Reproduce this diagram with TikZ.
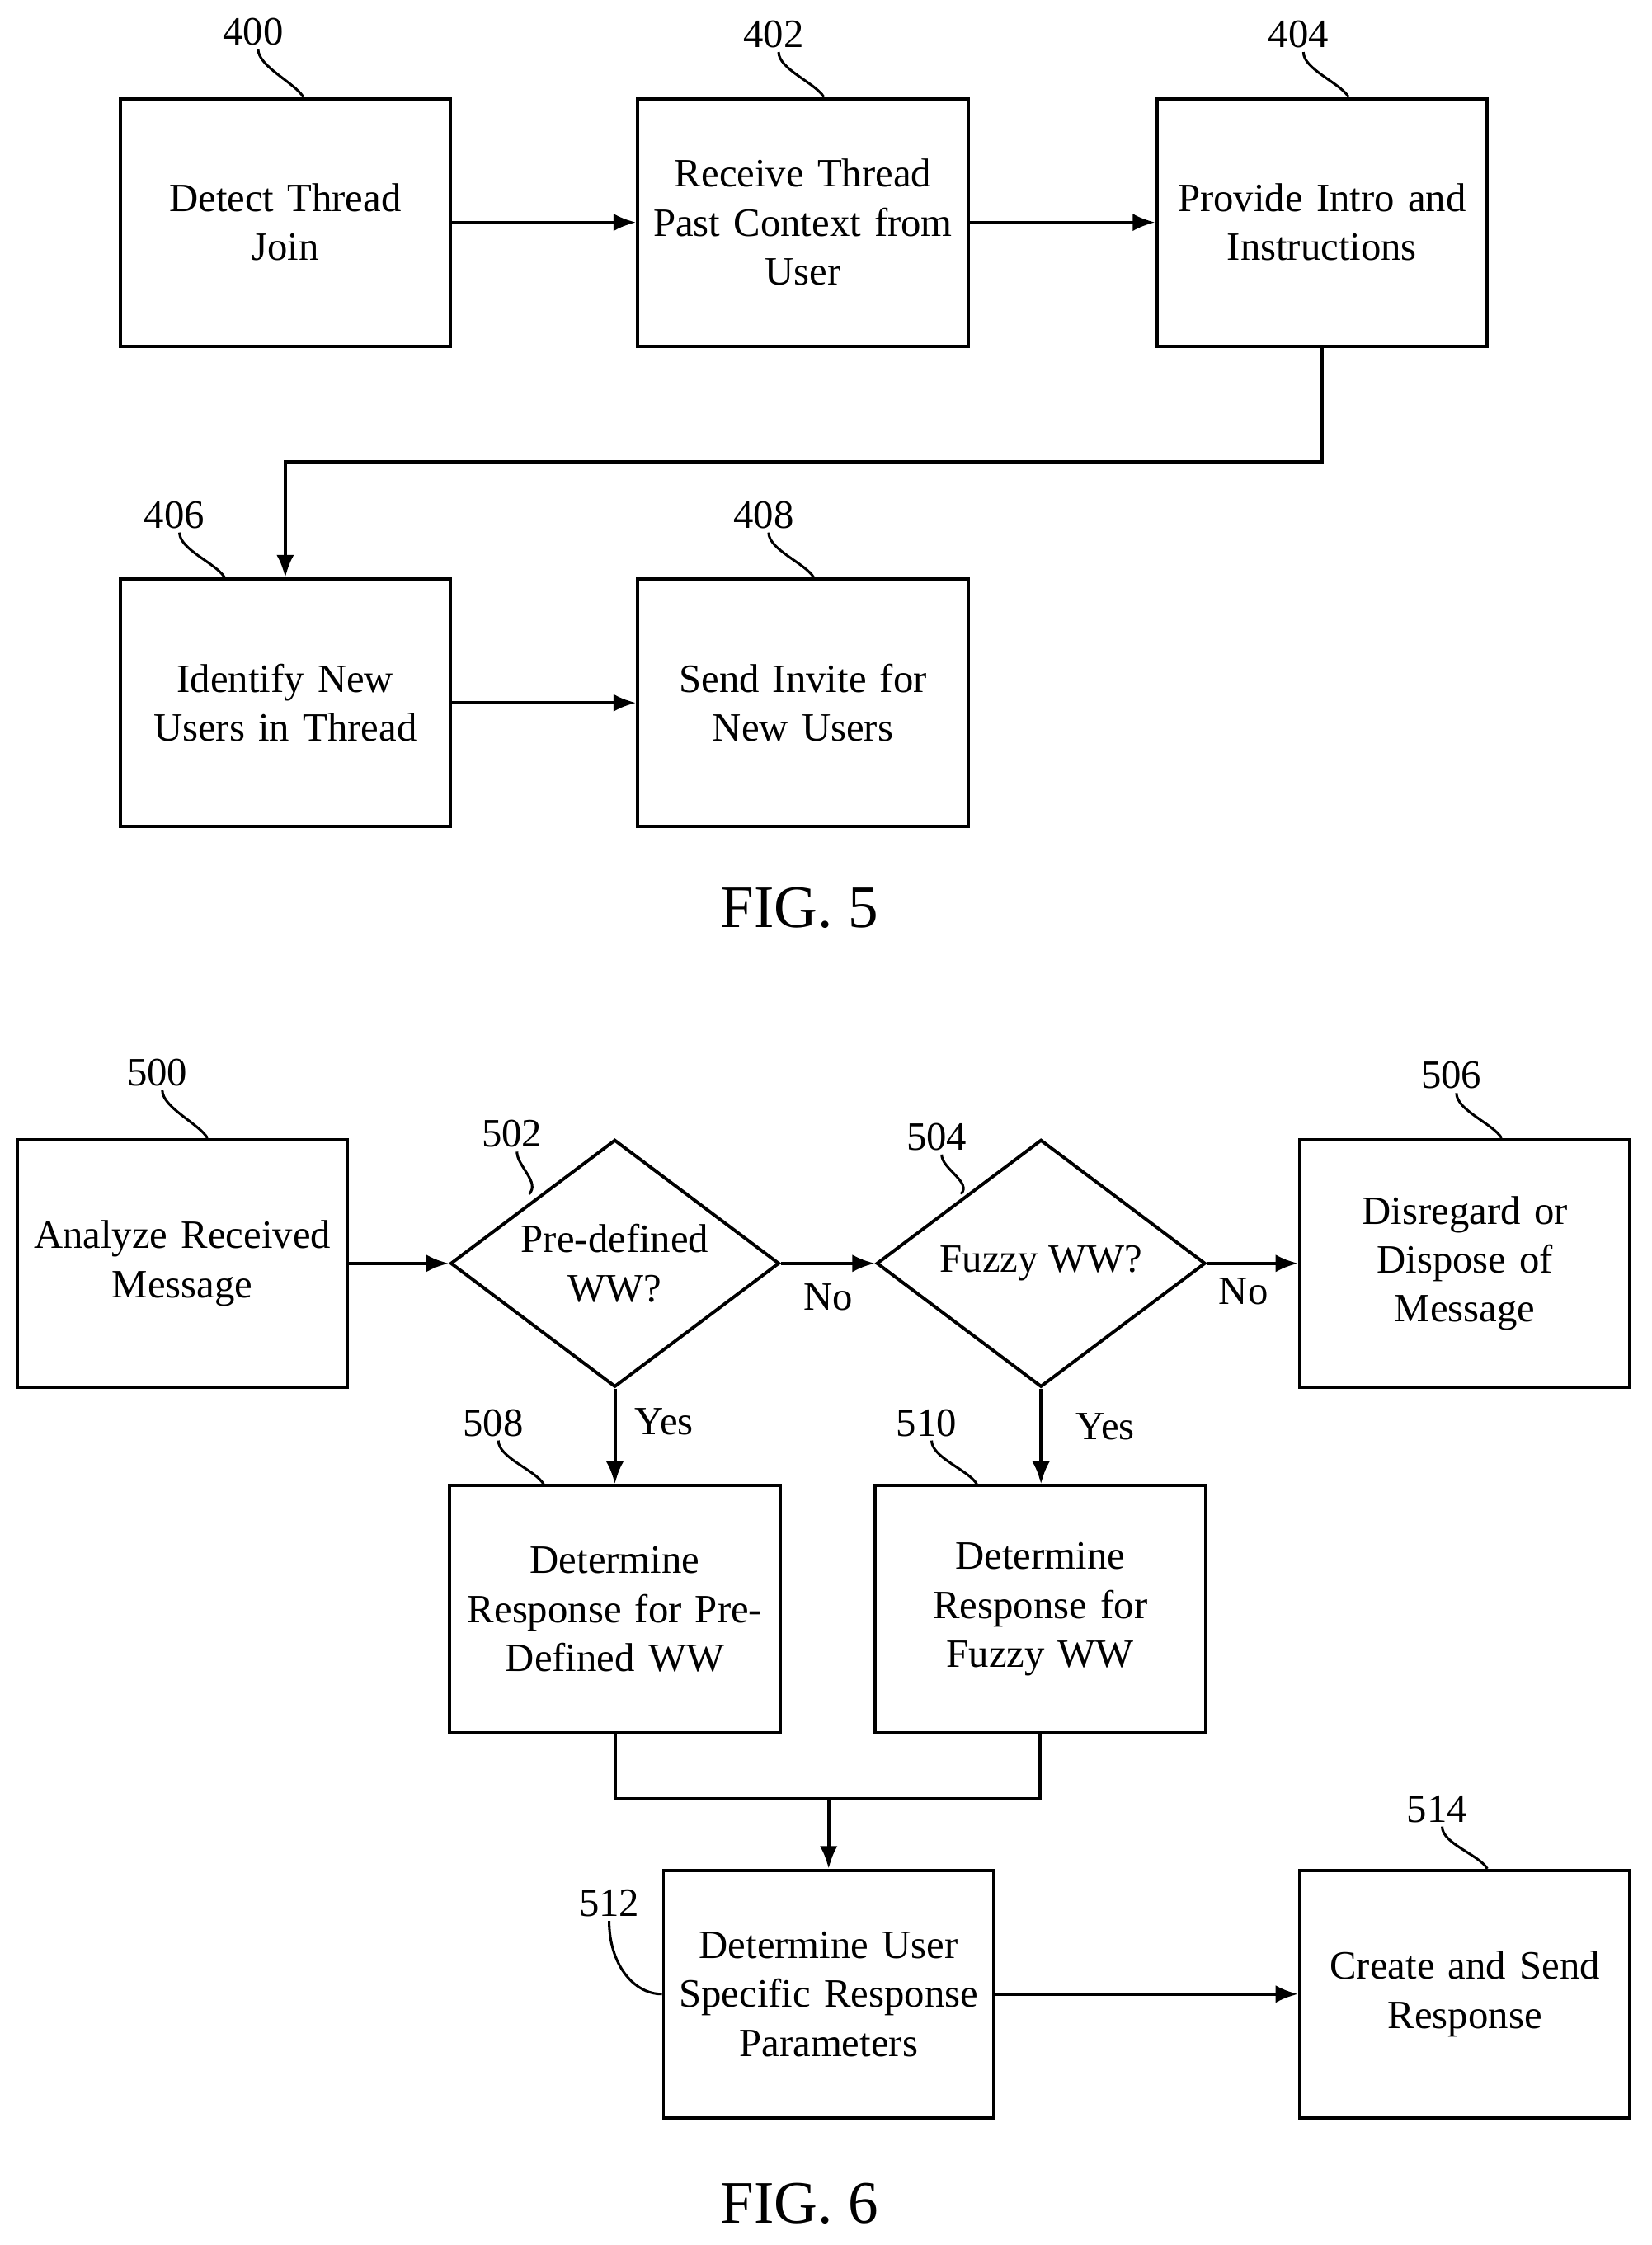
\documentclass[tikz,border=0pt]{standalone}
\usepackage{fontspec}
\setmainfont{Liberation Serif}
\usetikzlibrary{shapes.geometric,arrows.meta}

\begin{document}
\begin{tikzpicture}[x=0.02cm,y=-0.02cm,line width=1.3pt,
  font=\fontsize{16}{19.5}\selectfont,
  box/.style={draw,minimum width=4.62cm,minimum height=3.46cm,align=center,text width=4.3cm,inner sep=0pt},
  dia/.style={draw,diamond,minimum width=4.6cm,minimum height=3.46cm,aspect=1.33,inner sep=0pt,align=center},
  num/.style={inner sep=1pt},
  arr/.style={-{Latex[length=9pt,width=7pt]}},
  tick/.style={line width=1pt}]
\useasboundingbox (0,0) rectangle (1155,1570);
% FIG. 5
\node[box] (b400) at (199.5,155.5) {Detect Thread\\Join};
\node[box] (b402) at (561.5,155.5) {Receive Thread\\Past Context from\\User};
\node[box] (b404) at (924.5,155.5) {Provide Intro and\\Instructions};
\node[box] (b406) at (199.5,491.5) {Identify New\\Users in Thread};
\node[box] (b408) at (561.5,491.5) {Send Invite for\\New Users};
\node[num] (l400) at (177,22) {400};
\node[num] (l402) at (541,24) {402};
\node[num] (l404) at (908,24) {404};
\node[num] (l406) at (122,360) {406};
\node[num] (l408) at (534,360) {408};
\foreach \n/\d in {400/20,402/20,404/20,406/20,408/20}
  \draw[tick] ([xshift=2]l\n.south) .. controls +(0,12) and +(-6,-10) .. ([xshift=\d]b\n.north -| l\n.south);
\draw[arr] (b400) -- (b402);
\draw[arr] (b402) -- (b404);
\draw[arr] (b404.south) |- (199.5,323) -- (b406.north);
\draw[arr] (b406) -- (b408);
\node[font=\fontsize{24}{28}\selectfont] (fig5) at (559,635) {FIG. 5};
% FIG. 6
\node[box] (b500) at (127.5,883.5) {Analyze Received\\Message};
\node[dia] (d502) at (430,883.5) {Pre-defined\\WW?};
\node[dia] (d504) at (728,883.5) {Fuzzy WW?};
\node[box] (b506) at (1024.5,883.5) {Disregard or\\Dispose of\\Message};
\node[box] (b508) at (430,1125.5) {Determine\\Response for Pre-\\Defined WW};
\node[box] (b510) at (727.5,1125.5) {Determine\\Response for\\Fuzzy WW};
\node[box] (b512) at (579.5,1394.5) {Determine User\\Specific Response\\Parameters};
\node[box] (b514) at (1024.5,1394.5) {Create and Send\\Response};
\node[num] (l500) at (110,750) {500};
\node[num] (l502) at (358,793) {502};
\node[num] (l504) at (655,795) {504};
\node[num] (l506) at (1015,752) {506};
\node[num] (l508) at (345,995) {508};
\node[num] (l510) at (648,995) {510};
\node[num] (l512) at (426,1331) {512};
\node[num] (l514) at (1005,1265) {514};
\foreach \n in {500,506,508,510,514}
  \draw[tick] ([xshift=2]l\n.south) .. controls +(0,12) and +(-6,-10) .. ([xshift=20]b\n.north -| l\n.south);
\draw[tick] ([xshift=2]l502.south) .. controls +(0,10) and +(8,-8) .. (370,835);
\draw[tick] ([xshift=2]l504.south) .. controls +(0,10) and +(8,-8) .. (672,835);
\draw[tick] (l512.south) .. controls +(0,30) and +(-20,0) .. (b512.west);
\draw[arr] (b500) -- (d502);
\draw[arr] (d502) -- node[pos=0.5,below=4pt] (no1) {No} (d504);
\draw[arr] (d504) -- node[pos=0.4,below=2pt] (no2) {No} (b506);
\draw[arr] (d502.south) -- node[right=4pt,pos=0.35] (yes1) {Yes} (b508.north);
\draw[arr] (d504.south) -- node[right=10pt,pos=0.4] (yes2) {Yes} (b510.north -| d504.south);
\draw (b508.south) |- (579.5,1258) -| (b510.south);
\draw[arr] (579.5,1258) -- (b512.north);
\draw[arr] (b512) -- (b514);
\node[font=\fontsize{24}{28}\selectfont] (fig6) at (559,1541) {FIG. 6};
\end{tikzpicture}
\end{document}
